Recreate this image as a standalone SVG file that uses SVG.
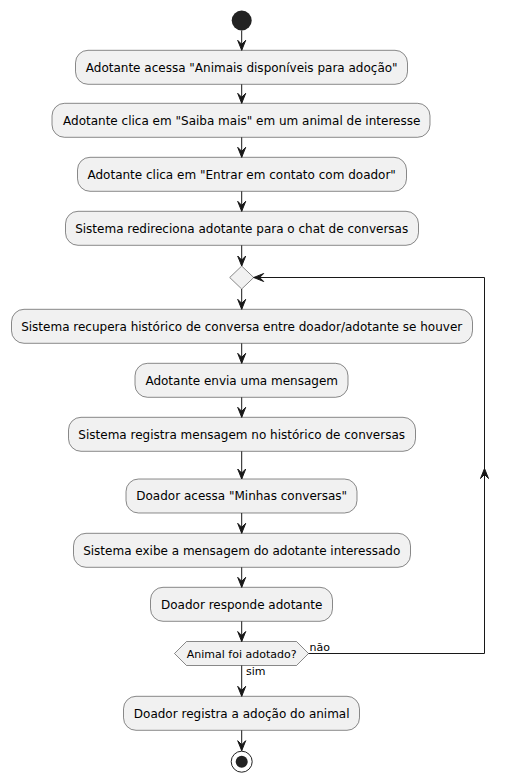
<svg xmlns="http://www.w3.org/2000/svg" width="509" height="782" viewBox="0 0 509 782">
<style>
.act rect{fill:#F1F1F1;stroke:#181818;stroke-width:0.5}
.act text,.dec text{font-family:"DejaVu Sans",sans-serif;font-size:12px;fill:#000;text-anchor:middle}
.dec polygon{fill:#F1F1F1;stroke:#181818;stroke-width:0.5}
.dec text{font-size:11px}
.lbl{font-family:"DejaVu Sans",sans-serif;font-size:11px;fill:#000}
#connectors line,#connectors polyline{stroke:#181818;stroke-width:1;fill:none}
#connectors polygon{fill:#181818;stroke:#181818;stroke-width:1}
</style>
<rect width="509" height="782" fill="#FFFFFF"/>
<g id="start"><circle cx="241.7" cy="20.5" r="10" fill="#222222"/></g>
<g id="n1" class="act"><rect x="75.5" y="50.3" width="332" height="34" rx="12.5"/><text x="241.7" y="71.5">Adotante acessa "Animais disponíveis para adoção"</text></g>
<g id="n2" class="act"><rect x="52" y="103.3" width="378" height="34" rx="12.5"/><text x="241.7" y="124.5">Adotante clica em "Saiba mais" em um animal de interesse</text></g>
<g id="n3" class="act"><rect x="77.5" y="157.3" width="329" height="34" rx="12.5"/><text x="241.7" y="178.5">Adotante clica em "Entrar em contato com doador"</text></g>
<g id="n4" class="act"><rect x="65.5" y="211.3" width="353" height="34" rx="12.5"/><text x="241.7" y="232.5">Sistema redireciona adotante para o chat de conversas</text></g>
<g id="merge" class="dec"><polygon points="241.7,266 253.7,277.5 241.7,289 229.7,277.5"/></g>
<g id="n5" class="act"><rect x="11.5" y="309.3" width="461" height="34" rx="12.5"/><text x="241.7" y="330.5">Sistema recupera histórico de conversa entre doador/adotante se houver</text></g>
<g id="n6" class="act"><rect x="135" y="363.3" width="213" height="34" rx="12.5"/><text x="241.7" y="384.5">Adotante envia uma mensagem</text></g>
<g id="n7" class="act"><rect x="68.5" y="417.3" width="347" height="34" rx="12.5"/><text x="241.7" y="438.5">Sistema registra mensagem no histórico de conversas</text></g>
<g id="n8" class="act"><rect x="126" y="479" width="231" height="34" rx="12.5"/><text x="241.7" y="500.2">Doador acessa "Minhas conversas"</text></g>
<g id="n9" class="act"><rect x="73.5" y="533.3" width="337" height="34" rx="12.5"/><text x="241.7" y="554.5">Sistema exibe a mensagem do adotante interessado</text></g>
<g id="n10" class="act"><rect x="150.5" y="587.3" width="182" height="34" rx="12.5"/><text x="241.7" y="608.5">Doador responde adotante</text></g>
<g id="decision" class="dec"><polygon points="174.5,653.5 186.5,641.5 296.5,641.5 308.5,653.5 296.5,665.5 186.5,665.5"/><text x="241.7" y="657.5">Animal foi adotado?</text></g>
<g id="n11" class="act"><rect x="123.5" y="696.3" width="236" height="34" rx="12.5"/><text x="241.7" y="717.5">Doador registra a adoção do animal</text></g>
<g id="end"><circle cx="241.7" cy="761.7" r="10.5" fill="none" stroke="#222222" stroke-width="1"/><circle cx="241.7" cy="761.7" r="6" fill="#222222"/></g>
<g id="connectors">
<line x1="241.7" y1="30.5" x2="241.7" y2="50.3"/><polygon points="237.7,40.3 241.7,50.3 245.7,40.3 241.7,44.3"/>
<line x1="241.7" y1="84.3" x2="241.7" y2="103.3"/><polygon points="237.7,93.3 241.7,103.3 245.7,93.3 241.7,97.3"/>
<line x1="241.7" y1="137.3" x2="241.7" y2="157.3"/><polygon points="237.7,147.3 241.7,157.3 245.7,147.3 241.7,151.3"/>
<line x1="241.7" y1="191.3" x2="241.7" y2="211.3"/><polygon points="237.7,201.3 241.7,211.3 245.7,201.3 241.7,205.3"/>
<line x1="241.7" y1="245.3" x2="241.7" y2="266"/><polygon points="237.7,256 241.7,266 245.7,256 241.7,260"/>
<line x1="241.7" y1="289" x2="241.7" y2="309.3"/><polygon points="237.7,299.3 241.7,309.3 245.7,299.3 241.7,303.3"/>
<line x1="241.7" y1="343.3" x2="241.7" y2="363.3"/><polygon points="237.7,353.3 241.7,363.3 245.7,353.3 241.7,357.3"/>
<line x1="241.7" y1="397.3" x2="241.7" y2="417.3"/><polygon points="237.7,407.3 241.7,417.3 245.7,407.3 241.7,411.3"/>
<line x1="241.7" y1="451.3" x2="241.7" y2="479"/><polygon points="237.7,469 241.7,479 245.7,469 241.7,473"/>
<line x1="241.7" y1="513" x2="241.7" y2="533.3"/><polygon points="237.7,523.3 241.7,533.3 245.7,523.3 241.7,527.3"/>
<line x1="241.7" y1="567.3" x2="241.7" y2="587.3"/><polygon points="237.7,577.3 241.7,587.3 245.7,577.3 241.7,581.3"/>
<line x1="241.7" y1="621.3" x2="241.7" y2="641.5"/><polygon points="237.7,631.5 241.7,641.5 245.7,631.5 241.7,635.5"/>
<line x1="241.7" y1="665.5" x2="241.7" y2="696.3"/><polygon points="237.7,686.3 241.7,696.3 245.7,686.3 241.7,690.3"/>
<line x1="241.7" y1="730.3" x2="241.7" y2="750.7"/><polygon points="237.7,740.7 241.7,750.7 245.7,740.7 241.7,744.7"/>
<polyline points="308.5,653.5 484.5,653.5 484.5,277.5 253.7,277.5"/>
<polygon points="480.5,478.5 484.5,468.5 488.5,478.5 484.5,474.5"/>
<polygon points="263.7,273.5 253.7,277.5 263.7,281.5 259.7,277.5"/>
<text class="lbl" x="309.5" y="650.5">não</text>
<text class="lbl" x="246" y="675">sim</text>
</g>
</svg>
